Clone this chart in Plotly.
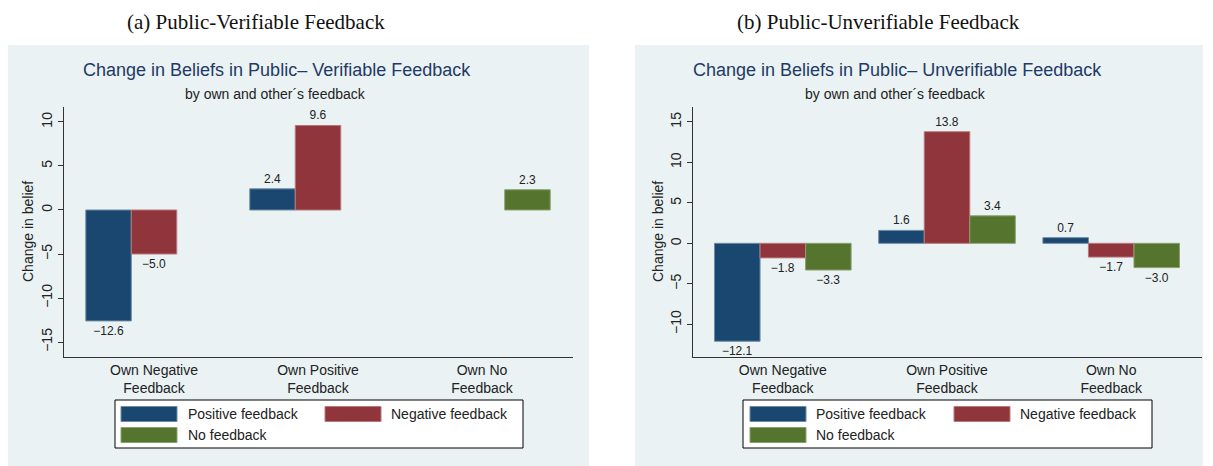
import plotly.graph_objects as go

# ---------------- data ----------------
categories = ["Own Negative<br>Feedback", "Own Positive<br>Feedback", "Own No<br>Feedback"]
series_names = ["Positive feedback", "Negative feedback", "No feedback"]

verif_positive = [-12.6, 2.4, None]
verif_negative = [-5.0, 9.6, None]
verif_none = [None, None, 2.3]

unverif_positive = [-12.1, 1.6, 0.7]
unverif_negative = [-1.8, 13.8, -1.7]
unverif_none = [-3.3, 3.4, -3.0]

verif_ticks = [-15, -10, -5, 0, 5, 10]
unverif_ticks = [-10, -5, 0, 5, 10, 15]

captions = ["(a) Public-Verifiable Feedback", "(b) Public-Unverifiable Feedback"]
titles = ["Change in Beliefs in Public\u2013 Verifiable Feedback",
          "Change in Beliefs in Public\u2013 Unverifiable Feedback"]
subtitle = "by own and other\u00b4s feedback"
ytitle = "Change in belief"

# ---------------- style ----------------
OFF = 8  # page body margin
W, H = 1213 - OFF, 466 - OFF
colors = ["#1a476f", "#90353b", "#55752f"]
lines = ["#6f8aa3", "#b8787c", "#8aa070"]
BG = "#eaf2f3"
FONT = "Liberation Sans, Arial, Helvetica, sans-serif"


def px(x):
    return min(max((x - OFF) / W, 0), 1)


def py(y):
    return min(max(1 - (y - OFF) / H, 0), 1)


def fmt(v):
    return "" if v is None else f"{v:.1f}".replace("-", "\u2212")


fig = go.Figure()

panels = [
    dict(data=[verif_positive, verif_negative, verif_none], xa="x", ya="y"),
    dict(data=[unverif_positive, unverif_negative, unverif_none], xa="x2", ya="y2"),
]
xs = list(range(len(categories)))
for p_i, p in enumerate(panels):
    for s_i, vals in enumerate(p["data"]):
        fig.add_trace(go.Bar(
            x=xs, y=vals, name=series_names[s_i],
            xaxis=p["xa"], yaxis=p["ya"],
            offsetgroup=str(s_i),
            marker=dict(color=colors[s_i], line=dict(color=lines[s_i], width=1)),
            text=[fmt(v) for v in vals], textposition="outside",
            textfont=dict(size=12, color="#222222", family=FONT),
            constraintext="none", cliponaxis=False, showlegend=False,
        ))

fig.update_layout(
    width=W, height=H, margin=dict(l=0, r=0, t=0, b=0),
    paper_bgcolor="white", plot_bgcolor="white",
    barmode="group", bargap=0.168, bargroupgap=0,
    font=dict(family=FONT, color="#222222"),
)

axis_common = dict(showline=True, linecolor="#333333", linewidth=1, mirror=False)
fig.update_layout(
    xaxis=dict(domain=[px(64), px(573)], range=[-0.549, 2.555], tickvals=xs, ticktext=categories,
               showgrid=False, zeroline=False, ticks="", tickfont=dict(size=14, color="#222222"),
               anchor="y", **axis_common),
    yaxis=dict(domain=[py(357), py(107)], range=[-16.7, 11.7], tickvals=verif_ticks,
               showgrid=True, gridcolor=BG, gridwidth=1, zeroline=False, ticks="outside",
               ticklen=5, tickcolor="#333333", tickangle=-90, tickfont=dict(size=14, color="#222222"),
               anchor="x", **axis_common),
    xaxis2=dict(domain=[px(693), px(1202)], range=[-0.547, 2.553], tickvals=xs, ticktext=categories,
                showgrid=False, zeroline=False, ticks="", tickfont=dict(size=14, color="#222222"),
                anchor="y2", **axis_common),
    yaxis2=dict(domain=[py(357), py(107)], range=[-14.05, 16.85], tickvals=unverif_ticks,
                showgrid=True, gridcolor=BG, gridwidth=1, zeroline=False, ticks="outside",
                ticklen=5, tickcolor="#333333", tickangle=-90, tickfont=dict(size=14, color="#222222"),
                anchor="x2", **axis_common),
)

shapes = []
annotations = []

# panel backgrounds
for x0, x1 in [(7, 589), (635, 1203)]:
    shapes.append(dict(type="rect", xref="paper", yref="paper", x0=px(x0), x1=px(x1),
                       y0=py(466), y1=py(45), fillcolor=BG, line=dict(width=0), layer="below"))

panel_geo = [
    dict(cap_x=256, title_x=277, yt_x=28, leg=(115, 523), sw=[121, 325], tx=[186, 389]),
    dict(cap_x=878, title_x=897, yt_x=658, leg=(743, 1152), sw=[750, 954], tx=[814, 1018]),
]

for i, g in enumerate(panel_geo):
    annotations.append(dict(text=captions[i], x=px(g["cap_x"]), y=py(8), xref="paper", yref="paper",
                            showarrow=False, xanchor="center", yanchor="top",
                            font=dict(family="Liberation Serif, Times New Roman, serif", size=21, color="#111111")))
    annotations.append(dict(text=titles[i], x=px(g["title_x"]), y=py(70), xref="paper", yref="paper",
                            showarrow=False, xanchor="center", yanchor="middle",
                            font=dict(family=FONT, size=18, color="#1f3a66")))
    annotations.append(dict(text=subtitle, x=px(g["title_x"] - 2), y=py(94), xref="paper", yref="paper",
                            showarrow=False, xanchor="center", yanchor="middle",
                            font=dict(family=FONT, size=14, color="#222222")))
    annotations.append(dict(text=ytitle, x=px(g["yt_x"]), y=py(232), xref="paper", yref="paper",
                            showarrow=False, xanchor="center", yanchor="middle", textangle=-90,
                            font=dict(family=FONT, size=14, color="#222222")))
    # legend box
    lx0, lx1 = g["leg"]
    shapes.append(dict(type="rect", xref="paper", yref="paper", x0=px(lx0), x1=px(lx1),
                       y0=py(448), y1=py(400), fillcolor="white", line=dict(color="black", width=1)))
    entries = [(0, 0), (1, 0), (2, 1)]  # (series idx, row)
    col_of = {0: 0, 1: 1, 2: 0}
    for s_i, row in entries:
        c = col_of[s_i]
        yc = 414 if row == 0 else 435
        shapes.append(dict(type="rect", xref="paper", yref="paper",
                           x0=px(g["sw"][c]), x1=px(g["sw"][c] + 56),
                           y0=py(yc + 7.5), y1=py(yc - 7.5),
                           fillcolor=colors[s_i], line=dict(color=lines[s_i], width=1)))
        annotations.append(dict(text=series_names[s_i], x=px(g["tx"][c]), y=py(yc), xref="paper", yref="paper",
                                showarrow=False, xanchor="left", yanchor="middle",
                                font=dict(family=FONT, size=14, color="#222222")))

fig.update_layout(shapes=shapes, annotations=annotations)
fig.write_html("out.html")
